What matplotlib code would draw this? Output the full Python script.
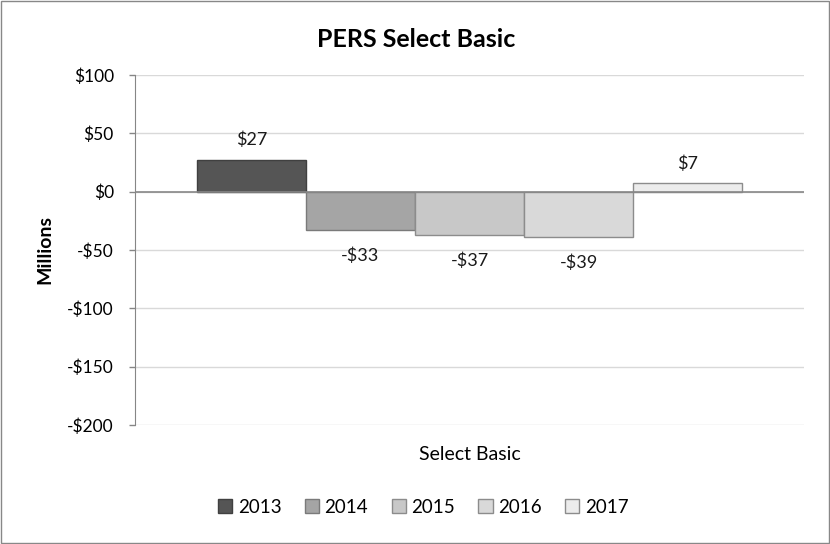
import matplotlib
matplotlib.use("Agg")
import matplotlib.pyplot as plt
from matplotlib.patches import Rectangle
import numpy as np

categories = ["Select Basic"]
years = ["2013", "2014", "2015", "2016", "2017"]
values = [27, -33, -37, -39, 7]
labels = ["$27", "-$33", "-$37", "-$39", "$7"]
yticks = [100, 50, 0, -50, -100, -150, -200]
ytick_labels = ["$100", "$50", "$0", "-$50", "-$100", "-$150", "-$200"]

colors = ["#555555", "#a5a5a5", "#c8c8c8", "#d9d9d9", "#ececec"]
edges = ["#404040", "#7a7a7a", "#8c8c8c", "#8c8c8c", "#8c8c8c"]

plt.rcParams['font.family'] = ['Lato', 'DejaVu Sans']

fig = plt.figure(figsize=(8.3, 5.44), dpi=100)
ax = fig.add_axes([0.1627, 0.2188, 0.806, 0.6434])

n = len(years)
bw = 0.163
offsets = (np.arange(n) - (n - 1) / 2) * bw
for i in range(n):
    ax.bar(offsets[i], values[i], width=bw, color=colors[i], edgecolor=edges[i],
           linewidth=1.0, label=years[i], zorder=3)
    if values[i] >= 0:
        ax.text(offsets[i], values[i] + 10, labels[i], ha="center", va="bottom",
                fontsize=13, color="#1a1a1a")
    else:
        ax.text(offsets[i], values[i] - 15, labels[i], ha="center", va="top",
                fontsize=13, color="#1a1a1a")

ax.set_xlim(-0.5, 0.5)
ax.set_ylim(-200, 100)
ax.set_yticks(yticks)
ax.set_yticklabels(ytick_labels, fontsize=12.5)
ax.set_xticks([0])
ax.set_xticklabels(categories, fontsize=14)
ax.tick_params(axis='y', length=4.3, width=1.0, color="#868686", pad=11)
ax.tick_params(axis='x', length=0, pad=15)
ax.grid(axis='y', color="#d9d9d9", linewidth=1.0, zorder=0)
ax.axhline(0, color="#888888", linewidth=1.2, zorder=4)
for s in ["top", "right", "bottom"]:
    ax.spines[s].set_visible(False)
ax.spines["left"].set_color("#868686")
ax.set_ylabel("Millions", fontsize=14, fontweight="bold", labelpad=10)

fig.suptitle("PERS Select Basic", x=0.501, y=0.948, fontsize=18, fontweight="bold")

leg = fig.legend(loc="center", bbox_to_anchor=(0.51, 0.068), ncol=5, frameon=False,
                 fontsize=13.5, handlelength=0.75, handleheight=0.75, handletextpad=0.3,
                 columnspacing=1.25)

fig.patches.append(Rectangle((0.001, 0.001), 0.998, 0.998, transform=fig.transFigure,
                             fill=False, edgecolor="#888888", linewidth=1.0))

fig.savefig("out.png", dpi=100, facecolor="white")
